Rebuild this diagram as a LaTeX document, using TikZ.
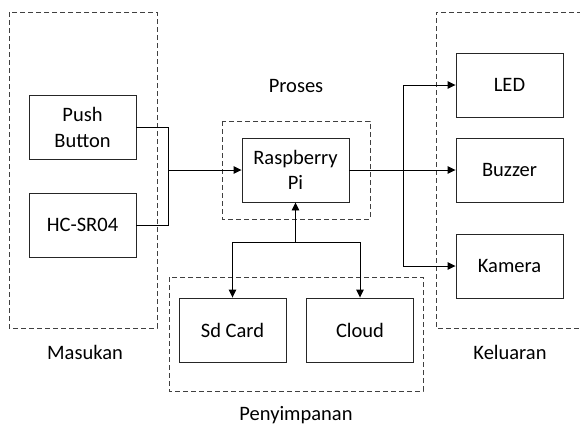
\documentclass[tikz,border=0pt]{standalone}
\usepackage{fontspec}
\setmainfont{Carlito}
\usetikzlibrary{arrows.meta}
\begin{document}
\begin{tikzpicture}[x=1pt,y=-1pt,
  blk/.style={draw=black!85,line width=0.9pt,minimum width=107pt,minimum height=64pt,inner sep=0pt,align=center,font=\fontsize{20.5}{25.5}\selectfont},
  grp/.style={draw=black!75,line width=0.9pt,dash pattern=on 5pt off 3pt},
  lbl/.style={font=\fontsize{20.5}{25.5}\selectfont,inner sep=0pt},
  wire/.style={draw=black,line width=0.9pt},
  arr/.style={wire,-{Triangle[length=8pt,width=7.5pt]}}]
\path[use as bounding box] (0,0) rectangle (580,426);
% group frames
\draw[grp] (9,12) rectangle (157,328);
\draw[grp] (222,121) rectangle (370,219);
\draw[grp] (169,277) rectangle (423,391);
\draw[grp] (590,12) -- (436,12) -- (436,328) -- (590,328);
% group labels
\node[lbl] (lmas) at (85,352) {Masukan};
\node[lbl] (lpro) at (296,86) {Proses};
\node[lbl] (lkel) at (510,352) {Keluaran};
\node[lbl] (lpen) at (296,415) {Penyimpanan};
% blocks
\node[blk] (pb) at (82.5,127.5) {Push\\Button};
\node[blk] (hc) at (82.5,225) {HC-SR04};
\node[blk] (rp) at (295.5,170) {Raspberry\\Pi};
\node[blk] (led) at (509.5,85) {LED};
\node[blk] (buz) at (509.5,170) {Buzzer};
\node[blk] (kam) at (509.5,266) {Kamera};
\node[blk] (sd) at (232.5,330) {Sd Card};
\node[blk] (cl) at (360,330) {Cloud};
% junctions
\coordinate (j1) at (168,170);
\coordinate (j2) at (403,170);
\coordinate (j3) at (295.5,242);
% connectors
\draw[wire] (pb.east) -| (j1);
\draw[wire] (hc.east) -| (j1);
\draw[arr] (j1) -- (rp.west);
\draw[arr] (rp.east) -- (buz.west);
\draw[arr] (j2) |- (led.west);
\draw[arr] (j2) |- (kam.west);
\draw[arr] (j3) -- (rp.south);
\draw[arr] (j3) -| (sd.north);
\draw[arr] (j3) -| (cl.north);
\end{tikzpicture}
\end{document}
